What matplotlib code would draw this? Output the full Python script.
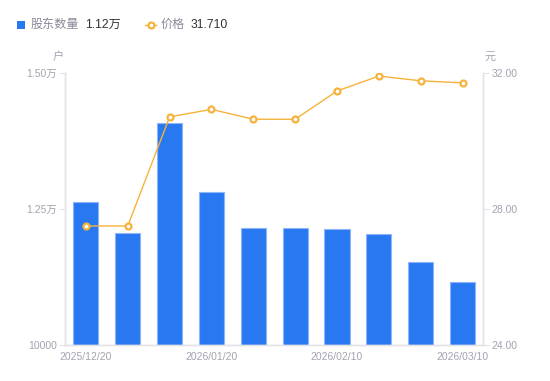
import matplotlib
matplotlib.use("Agg")
import matplotlib.pyplot as plt
from matplotlib.lines import Line2D
from matplotlib.patches import Rectangle

plt.rcParams["font.family"] = ["Liberation Sans", "Noto Sans CJK SC", "DejaVu Sans"]

dates = ["2025/12/20", "2025/12/31", "2026/01/09", "2026/01/20", "2026/01/30",
         "2026/02/06", "2026/02/10", "2026/02/20", "2026/02/27", "2026/03/10"]
holders = [12623, 12053, 14075, 12812, 12145, 12145, 12132, 12040, 11526, 11160]
prices = [27.50, 27.50, 30.71, 30.93, 30.64, 30.64, 31.47, 31.91, 31.77, 31.71]
shown_dates = ["2025/12/20", "2026/01/20", "2026/02/10", "2026/03/10"]
left_ticks = [10000, 12500, 15000]
left_labels = ["10000", "1.25万", "1.50万"]
right_ticks = [24, 28, 32]

BLUE = "#2878f2"
ORANGE = "#f7b23b"
GRID = "#e3e3e8"
LABEL = "#a3a3b2"

fig = plt.figure(figsize=(5.5, 3.81), dpi=100)
ax = fig.add_axes([65 / 550, 36 / 381, 418.5 / 550, 272 / 381])
ax2 = ax.twinx()

x = list(range(len(dates)))
ax.bar(x, holders, width=0.6, color=BLUE, edgecolor="#8cb6f7", linewidth=0.8, zorder=2)
ax.set_xlim(-0.5, len(dates) - 0.5)
ax.set_ylim(10000, 15000)
ax.set_yticks(left_ticks)
ax.set_yticklabels(left_labels)

ax2.plot(x, prices, color=ORANGE, linewidth=1.0, marker="o", markersize=4.3,
         markerfacecolor="white", markeredgecolor=ORANGE, markeredgewidth=1.6, zorder=3)
ax2.set_ylim(24, 32)
ax2.set_yticks(right_ticks)
ax2.set_yticklabels([f"{v:.2f}" for v in right_ticks])

ax.set_xticks([dates.index(d) for d in shown_dates])
ax.set_xticklabels(shown_dates)

for a in (ax, ax2):
    a.spines["top"].set_visible(False)
    for s in ("left", "right", "bottom"):
        a.spines[s].set_color(GRID)
        a.spines[s].set_linewidth(1.0)
    a.tick_params(axis="y", colors=GRID, labelcolor=LABEL, labelsize=7.5, length=4, width=0.8, pad=2)
    a.tick_params(axis="x", length=0, labelcolor=LABEL, labelsize=7.5, pad=5)
ax.set_zorder(ax2.get_zorder() - 1)
ax.patch.set_visible(False)

fig.text(58 / 550, 1 - 57 / 381, "户", ha="center", va="center", fontsize=8, color=LABEL)
fig.text(490 / 550, 1 - 57 / 381, "元", ha="center", va="center", fontsize=8, color=LABEL)

# legend row
fig.patches.append(Rectangle((17 / 550, 1 - 29 / 381), 8 / 550, 8 / 381, transform=fig.transFigure,
                             facecolor=BLUE, edgecolor="none"))
fig.text(31 / 550, 1 - 24.5 / 381, "股东数量", ha="left", va="center", fontsize=8.7, color="#8a8a99")
fig.text(85 / 550, 1 - 24.5 / 381, "1.12万", ha="left", va="center", fontsize=8.7, color="#333333")
fig.lines.append(Line2D([145 / 550, 156 / 550], [1 - 24.5 / 381] * 2, transform=fig.transFigure,
                        color=ORANGE, linewidth=1.0))
fig.lines.append(Line2D([150.5 / 550], [1 - 24.5 / 381], transform=fig.transFigure, color=ORANGE,
                        marker="o", markersize=4.3, markerfacecolor="white", markeredgewidth=1.6))
fig.text(161 / 550, 1 - 24.5 / 381, "价格", ha="left", va="center", fontsize=8.7, color="#8a8a99")
fig.text(191 / 550, 1 - 24.5 / 381, "31.710", ha="left", va="center", fontsize=8.7, color="#333333")

fig.savefig("out.png", dpi=100)
